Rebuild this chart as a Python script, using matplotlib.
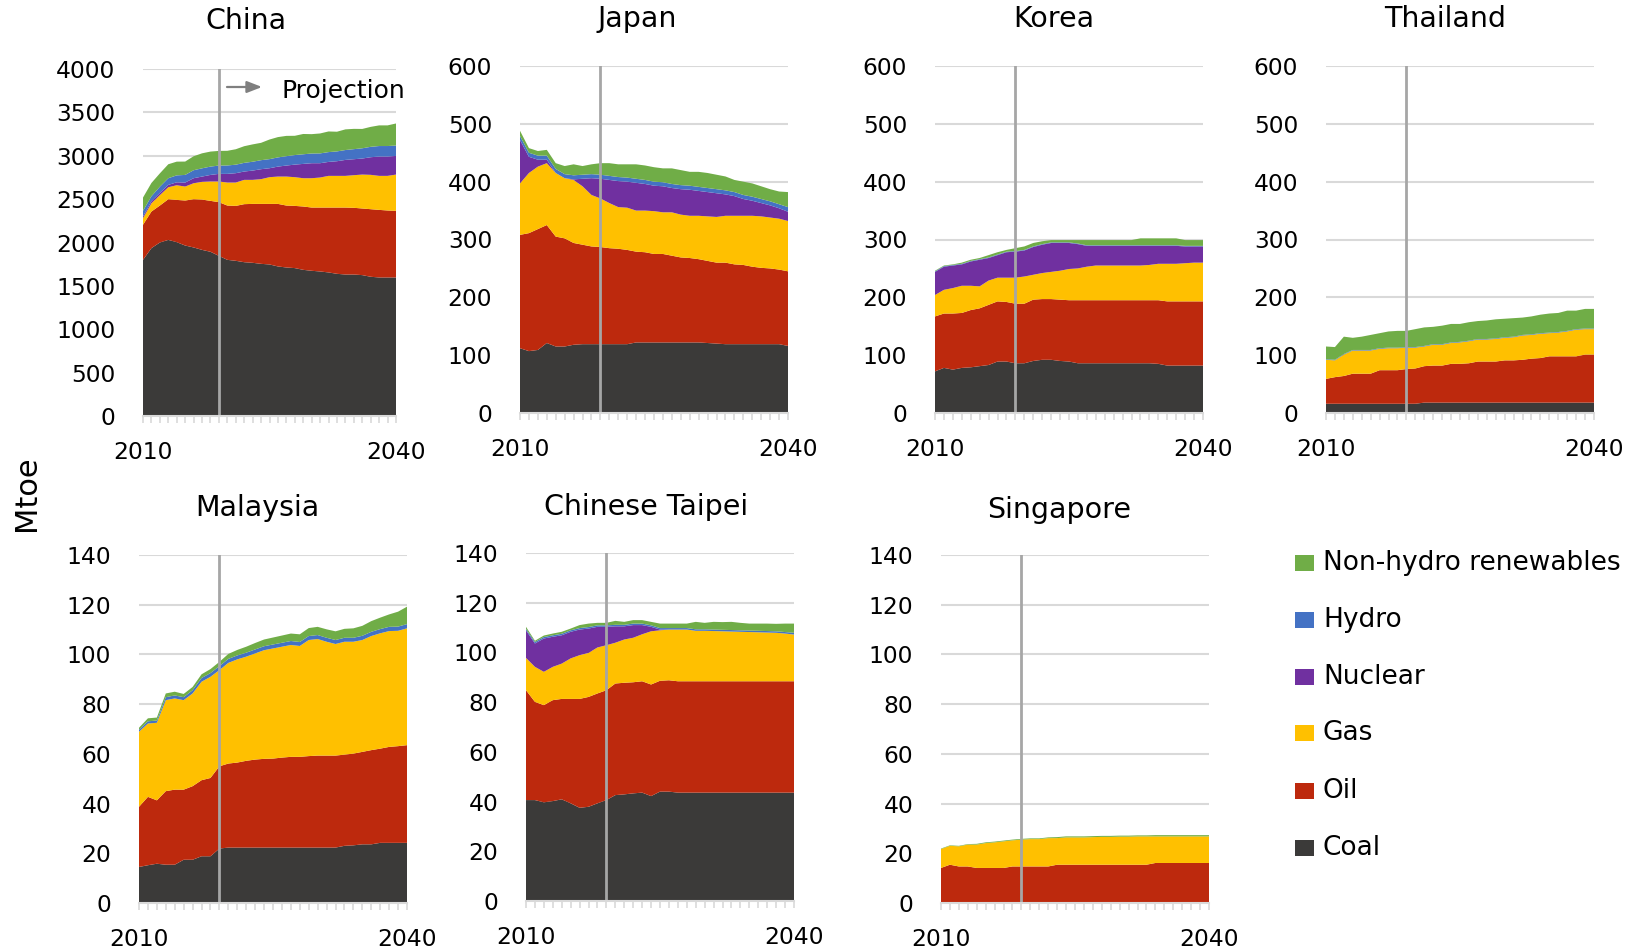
import matplotlib
matplotlib.use("Agg")
import matplotlib.pyplot as plt
from matplotlib.patches import Rectangle

# ---------------- data (Mtoe) ----------------
years = list(range(2010, 2041))
fuels = ["Coal", "Oil", "Gas", "Nuclear", "Hydro", "Non-hydro renewables"]
fuel_colors = ["#3B3A39", "#BD290D", "#FFC000", "#7030A0", "#4472C4", "#70AD47"]
projection_start = 2019

china_coal = [1800, 1935, 2000, 2030, 2004, 1965, 1943, 1915, 1893, 1846, 1800, 1789, 1773, 1766, 1754, 1747,
              1724, 1712, 1705, 1685, 1674, 1666, 1655, 1639, 1631, 1631, 1624, 1605, 1597, 1597, 1597]
china_oil = [404, 422, 426, 469, 487, 519, 556, 580, 587, 619, 626, 633, 669, 679, 691, 698,
             721, 714, 717, 730, 729, 737, 748, 764, 772, 769, 768, 779, 779, 772, 768]
china_gas = [76, 95, 120, 138, 169, 161, 184, 204, 223, 238, 265, 269, 280, 277, 285, 308,
             315, 334, 331, 326, 338, 346, 365, 365, 365, 376, 391, 396, 392, 399, 418]
china_nuclear = [20, 23, 25, 27, 34, 46, 58, 61, 76, 88, 100, 108, 96, 107, 115, 103,
                 115, 127, 145, 165, 173, 165, 161, 169, 184, 184, 185, 203, 223, 223, 215]
china_hydro = [65, 58, 72, 77, 80, 88, 92, 95, 96, 96, 97, 98, 100, 102, 104, 105,
               106, 108, 110, 111, 112, 113, 113, 113, 114, 116, 118, 120, 121, 121, 120]
china_nhr = [153, 153, 154, 161, 158, 154, 161, 173, 173, 169, 169, 178, 192, 200, 200, 226,
             234, 234, 222, 234, 223, 230, 238, 227, 238, 234, 223, 230, 238, 238, 254]

japan_coal = [112, 107, 109, 121, 115, 115, 118, 119, 119, 119, 119, 119, 119, 122, 122, 122,
              122, 122, 122, 122, 122, 121, 120, 119, 119, 119, 119, 119, 119, 119, 116]
japan_oil = [196, 204, 209, 204, 190, 187, 176, 172, 169, 168, 166, 165, 163, 157, 156, 153,
             153, 150, 147, 146, 144, 142, 140, 141, 138, 137, 134, 132, 131, 129, 129]
japan_gas = [89, 104, 108, 107, 110, 104, 109, 101, 89, 84, 78, 72, 73, 71, 72, 74,
             72, 75, 74, 73, 75, 77, 79, 81, 84, 85, 88, 89, 88, 88, 87]
japan_nuclear = [75, 28, 12, 6, 0, 0, 1, 13, 29, 34, 40, 45, 45, 48, 46, 44,
                 45, 42, 44, 45, 43, 42, 41, 37, 34, 29, 26, 23, 21, 18, 16]
japan_hydro = [7, 7, 7, 7, 7, 7, 7, 7, 7, 7, 7, 7, 7, 7, 7, 7,
               7, 7, 7, 7, 7, 7, 7, 7, 7, 7, 7, 7, 7, 7, 8]
japan_nhr = [9, 8, 8, 10, 10, 14, 19, 15, 17, 20, 22, 22, 23, 25, 25, 25,
             24, 27, 26, 24, 26, 26, 25, 24, 21, 23, 23, 22, 21, 22, 26]

korea_coal = [72, 78, 75, 78, 79, 81, 83, 89, 89, 86, 86, 90, 92, 92, 90, 89,
              86, 86, 86, 86, 86, 86, 86, 86, 86, 85, 82, 82, 82, 82, 82]
korea_oil = [95, 94, 97, 95, 99, 100, 104, 104, 103, 103, 103, 106, 105, 105, 106, 106,
             109, 109, 109, 109, 109, 109, 109, 109, 109, 110, 111, 111, 111, 111, 111]
korea_gas = [37, 41, 44, 47, 42, 38, 42, 41, 42, 45, 47, 43, 45, 47, 50, 54,
             55, 58, 60, 60, 60, 60, 60, 60, 61, 63, 65, 65, 66, 67, 67]
korea_nuclear = [40, 40, 39, 37, 42, 46, 39, 39, 44, 45, 45, 48, 49, 50, 48, 45,
                 42, 36, 34, 34, 34, 34, 34, 34, 33, 31, 31, 31, 29, 28, 28]
korea_hydro = [1, 1, 1, 1, 1, 1, 1, 1, 1, 1, 1, 1, 1, 1, 1, 1,
               1, 1, 1, 1, 1, 1, 1, 1, 1, 1, 1, 1, 1, 1, 1]
korea_nhr = [1, 1, 1, 2, 2, 2, 4, 4, 3, 5, 6, 6, 5, 4, 4, 4,
             6, 9, 9, 9, 9, 9, 9, 12, 12, 12, 12, 12, 10, 10, 10]

thai_coal = [16, 16, 16, 16, 16, 16, 16, 16, 16, 16, 16, 18, 18, 18, 18, 18,
             18, 18, 18, 18, 18, 18, 18, 18, 18, 18, 18, 18, 18, 18, 18]
thai_oil = [43, 46, 48, 52, 52, 52, 58, 58, 58, 60, 61, 63, 64, 64, 67, 67,
            68, 71, 71, 71, 73, 73, 74, 76, 77, 80, 80, 80, 80, 83, 83]
thai_gas = [33, 29, 37, 40, 40, 40, 37, 38, 38, 37, 36, 34, 36, 36, 36, 37,
            38, 38, 38, 39, 39, 40, 42, 41, 42, 40, 41, 43, 46, 44, 44]
thai_nuclear = [0, 0, 0, 0, 0, 0, 0, 0, 0, 0, 0, 0, 0, 0, 0, 0,
                0, 0, 0, 0, 0, 0, 0, 0, 0, 0, 0, 0, 0, 0, 0]
thai_hydro = [1, 1, 1, 1, 1, 1, 1, 1, 1, 1, 1, 1, 1, 1, 1, 1,
              1, 1, 1, 1, 1, 1, 1, 1, 1, 1, 1, 1, 1, 1, 1]
thai_nhr = [22, 22, 30, 21, 23, 26, 26, 28, 29, 28, 31, 32, 30, 32, 32, 31,
            32, 31, 32, 33, 32, 32, 30, 31, 32, 33, 33, 35, 32, 34, 34]

malay_coal = [14.5, 15.2, 15.8, 15.4, 15.4, 17.4, 17.4, 18.8, 18.8, 21.9, 22.3, 22.3, 22.3, 22.3, 22.3, 22.3,
              22.3, 22.3, 22.3, 22.3, 22.3, 22.3, 22.3, 23.0, 23.2, 23.6, 23.6, 24.2, 24.2, 24.2, 24.2]
malay_oil = [24.2, 27.5, 25.5, 29.6, 30.2, 28.2, 29.6, 30.6, 31.5, 33.1, 33.8, 34.2, 34.9, 35.4, 35.7, 35.8,
             36.2, 36.5, 36.5, 36.8, 37.0, 37.0, 37.0, 36.7, 36.9, 37.2, 37.9, 37.9, 38.6, 38.9, 39.3]
malay_gas = [30.2, 29.5, 31.2, 36.6, 36.7, 36.0, 37.3, 39.6, 40.7, 38.7, 40.5, 41.5, 41.9, 42.7, 43.7, 44.3,
             44.6, 45.0, 44.6, 46.7, 46.9, 45.8, 44.9, 45.4, 45.0, 45.0, 45.9, 46.4, 46.6, 46.4, 47.0]
malay_nuclear = [0, 0, 0, 0, 0, 0, 0, 0, 0, 0, 0, 0, 0, 0, 0, 0,
                 0, 0, 0, 0, 0, 0, 0, 0, 0, 0, 0, 0, 0, 0, 0]
malay_hydro = [0.8, 0.9, 0.9, 1.2, 1.2, 1.2, 1.3, 1.5, 1.5, 1.6, 1.6, 1.6, 1.6, 1.6, 1.6, 1.6,
               1.6, 1.6, 1.6, 1.6, 1.6, 1.6, 1.6, 1.6, 1.6, 1.7, 1.7, 1.7, 1.7, 1.7, 1.7]
malay_nhr = [0.8, 1.2, 1.2, 1.5, 1.5, 1.3, 1.3, 1.5, 1.6, 1.7, 2.0, 2.2, 2.4, 2.6, 2.7, 2.8,
             2.9, 3.0, 3.1, 3.2, 3.3, 3.4, 3.5, 3.6, 3.8, 4.0, 4.3, 4.6, 5.0, 6.0, 7.0]

taipei_coal = [40.6, 40.6, 39.7, 40.2, 40.9, 39.3, 37.5, 37.9, 39.3, 40.6, 42.6, 42.9, 43.3, 43.6, 42.2, 44.0,
               44.0, 43.6, 43.6, 43.6, 43.6, 43.6, 43.6, 43.6, 43.6, 43.6, 43.6, 43.6, 43.6, 43.6, 43.6]
taipei_oil = [44.2, 39.5, 39.1, 40.6, 40.4, 42.0, 43.8, 44.2, 44.2, 44.2, 44.9, 44.9, 44.7, 44.8, 44.9, 44.6,
              44.8, 44.8, 44.8, 44.8, 44.8, 44.8, 44.8, 44.8, 44.8, 44.8, 44.8, 44.8, 44.8, 44.8, 44.8]
taipei_gas = [13.0, 14.1, 13.4, 13.4, 14.2, 16.3, 17.6, 17.7, 18.5, 18.1, 16.4, 17.4, 17.9, 18.9, 21.4, 20.3,
              20.4, 20.8, 20.8, 20.3, 20.3, 20.2, 20.1, 20.0, 19.9, 19.8, 19.7, 19.6, 19.5, 19.2, 18.8]
taipei_nuclear = [11.1, 9.4, 13.4, 12.1, 11.4, 10.7, 10.3, 9.8, 8.3, 7.4, 6.6, 5.3, 5.1, 3.7, 1.8, 0.3,
                  0, 0, 0, 0, 0, 0, 0, 0, 0, 0, 0, 0, 0, 0, 0]
taipei_hydro = [0.6, 0.6, 0.6, 0.6, 0.6, 0.6, 0.6, 0.6, 0.6, 0.6, 0.6, 0.6, 0.6, 0.6, 0.6, 0.6,
                0.6, 0.6, 0.6, 0.6, 0.6, 0.6, 0.6, 0.6, 0.6, 0.6, 0.6, 0.6, 0.6, 0.6, 0.7]
taipei_nhr = [0.8, 0.5, 0.6, 0.7, 0.8, 0.7, 1.2, 1.4, 1.0, 1.0, 1.6, 1.2, 1.4, 1.4, 1.4, 1.8,
              1.8, 1.8, 1.8, 3.0, 2.6, 3.1, 3.1, 3.3, 3.0, 2.8, 2.9, 3.0, 3.0, 3.4, 3.7]

sing_coal = [0, 0, 0, 0, 0, 0, 0, 0, 0, 0, 0, 0, 0, 0, 0, 0,
             0, 0, 0, 0, 0, 0, 0, 0, 0, 0, 0, 0, 0, 0, 0]
sing_oil = [14.1, 15.4, 14.7, 14.7, 14.1, 14.1, 14.1, 14.1, 14.7, 14.7, 14.7, 14.7, 14.7, 15.4, 15.4, 15.4,
            15.4, 15.4, 15.4, 15.4, 15.4, 15.4, 15.4, 15.4, 16.1, 16.1, 16.1, 16.1, 16.1, 16.1, 16.1]
sing_gas = [7.6, 7.6, 8.1, 8.8, 9.4, 10.0, 10.3, 10.7, 10.5, 10.8, 11.0, 11.0, 11.4, 10.7, 11.0, 11.0,
            11.0, 11.1, 11.2, 11.2, 11.3, 11.3, 11.4, 11.4, 10.7, 10.7, 10.7, 10.7, 10.7, 10.7, 10.7]
sing_nuclear = [0, 0, 0, 0, 0, 0, 0, 0, 0, 0, 0, 0, 0, 0, 0, 0,
                0, 0, 0, 0, 0, 0, 0, 0, 0, 0, 0, 0, 0, 0, 0]
sing_hydro = [0, 0, 0, 0, 0, 0, 0, 0, 0, 0, 0, 0, 0, 0, 0, 0,
              0, 0, 0, 0, 0, 0, 0, 0, 0, 0, 0, 0, 0, 0, 0]
sing_nhr = [0.2, 0.2, 0.2, 0.2, 0.3, 0.3, 0.3, 0.3, 0.3, 0.3, 0.3, 0.3, 0.3, 0.4, 0.4, 0.4,
            0.4, 0.4, 0.4, 0.4, 0.4, 0.4, 0.4, 0.4, 0.5, 0.5, 0.5, 0.5, 0.5, 0.5, 0.5]

countries = ["China", "Japan", "Korea", "Thailand", "Malaysia", "Chinese Taipei", "Singapore"]
country_series = {
    "China": [china_coal, china_oil, china_gas, china_nuclear, china_hydro, china_nhr],
    "Japan": [japan_coal, japan_oil, japan_gas, japan_nuclear, japan_hydro, japan_nhr],
    "Korea": [korea_coal, korea_oil, korea_gas, korea_nuclear, korea_hydro, korea_nhr],
    "Thailand": [thai_coal, thai_oil, thai_gas, thai_nuclear, thai_hydro, thai_nhr],
    "Malaysia": [malay_coal, malay_oil, malay_gas, malay_nuclear, malay_hydro, malay_nhr],
    "Chinese Taipei": [taipei_coal, taipei_oil, taipei_gas, taipei_nuclear, taipei_hydro, taipei_nhr],
    "Singapore": [sing_coal, sing_oil, sing_gas, sing_nuclear, sing_hydro, sing_nhr],
}
y_max = {"China": 4000, "Japan": 600, "Korea": 600, "Thailand": 600,
         "Malaysia": 140, "Chinese Taipei": 140, "Singapore": 140}
y_step = {"China": 500, "Japan": 100, "Korea": 100, "Thailand": 100,
          "Malaysia": 20, "Chinese Taipei": 20, "Singapore": 20}

# ---------------- layout (pixels in a 1630x949 canvas) ----------------
W, H = 1630, 949
# left, top, right, bottom of plot area; title centre x, title centre y
layout = {
    "China": (143, 69, 396, 416, 246, 21),
    "Japan": (520, 66, 788, 413, 637, 19),
    "Korea": (935, 66, 1203, 413, 1054, 19),
    "Thailand": (1326, 66, 1594, 413, 1445, 19),
    "Malaysia": (139, 555, 407, 903, 257, 508),
    "Chinese Taipei": (526, 553, 794, 901, 646, 507),
    "Singapore": (941, 555, 1209, 903, 1059, 510),
}

plt.rcParams["font.family"] = ["DejaVu Sans"]
fig = plt.figure(figsize=(W / 100, H / 100), dpi=100)
fig.patch.set_facecolor("white")

grid_col = "#D9D9D9"
for name in countries:
    l, t, r, b, tx, ty = layout[name]
    ax = fig.add_axes([l / W, 1 - b / H, (r - l) / W, (b - t) / H])
    ax.stackplot(years, *country_series[name], colors=fuel_colors, linewidth=0, zorder=2)
    ax.set_xlim(years[0], years[-1])
    ax.set_ylim(0, y_max[name])
    ax.set_yticks(range(0, y_max[name] + 1, y_step[name]))
    ax.set_axisbelow(True)
    ax.grid(axis="y", color=grid_col, linewidth=1.5, zorder=0)
    ax.axvline(projection_start, color="#A6A6A6", linewidth=2, zorder=3)
    for s in ["top", "right", "left"]:
        ax.spines[s].set_visible(False)
    ax.spines["bottom"].set_color(grid_col)
    ax.spines["bottom"].set_linewidth(1.5)
    ax.spines["bottom"].set_zorder(4)
    ax.set_xticks([years[0], years[-1]])
    ax.set_xticks(years, minor=True)
    ax.tick_params(axis="x", which="both", length=5, width=1.2, color=grid_col,
                   labelsize=16.8, pad=13)
    ax.tick_params(axis="y", length=0, labelsize=16.8, pad=20)
    fig.text(tx / W, 1 - ty / H, name, ha="center", va="center", fontsize=20.5)

    if name == "China":
        ax.annotate("", xy=(262 / W, 1 - 87 / H), xytext=(227 / W, 1 - 87 / H),
                    xycoords="figure fraction", textcoords="figure fraction",
                    arrowprops=dict(arrowstyle="-|>,head_length=0.9,head_width=0.35",
                                    color="#7F7F7F", lw=1.6, shrinkA=0, shrinkB=0))
        fig.text(282 / W, 1 - 91 / H, "Projection", ha="left", va="center", fontsize=18)

fig.text(26 / W, 1 - 493 / H, "Mtoe", rotation=90, ha="center", va="center", fontsize=22)

# legend (top to bottom: reverse stacking order)
leg_rows = [563, 620, 677, 733, 791, 848]
for yy, fuel, col in zip(leg_rows, fuels[::-1], fuel_colors[::-1]):
    fig.add_artist(Rectangle((1295 / W, 1 - (yy + 8) / H), 19 / W, 16 / H,
                             transform=fig.transFigure, facecolor=col, edgecolor="none"))
    fig.text(1323 / W, 1 - yy / H, fuel, ha="left", va="center", fontsize=19)

fig.savefig("out.png", dpi=100)
